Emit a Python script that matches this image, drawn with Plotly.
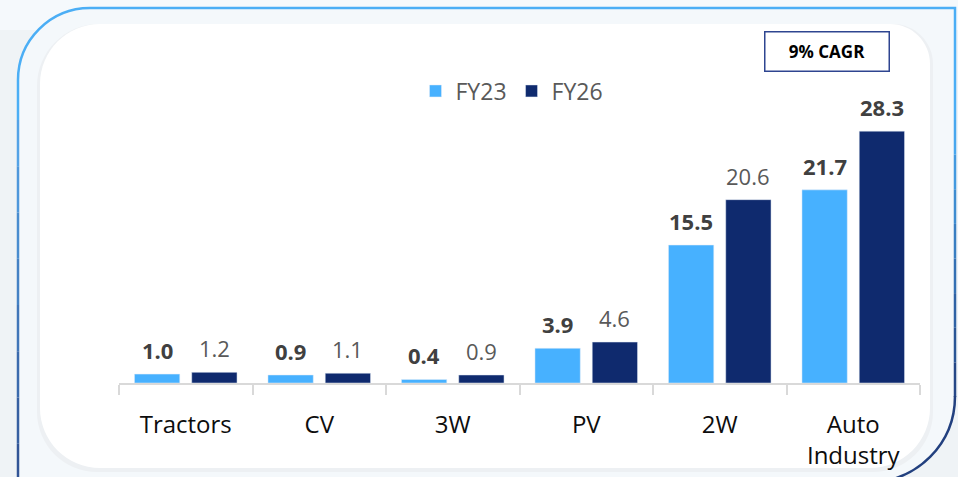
import plotly.graph_objects as go

categories = ["Tractors", "CV", "3W", "PV", "2W", "Auto<br>Industry"]
fy23 = [1.0, 0.9, 0.4, 3.9, 15.5, 21.7]
fy26 = [1.2, 1.1, 0.9, 4.6, 20.6, 28.3]
fy26_bold = [False, False, False, False, False, True]
series_names = ["FY23", "FY26"]
cagr_text = "9% CAGR"

W_FIG, H_FIG = 958, 477
L, R, T, B = 119, 38, 107, 94
PW, PH = W_FIG - L - R, H_FIG - T - B
BARGAP, BARGROUPGAP = 0.142, 0.209


def px(x):
    return (x - L) / PW


def py(y):
    return (H_FIG - B - y) / PH


def pt(x, y):
    return f"{px(x):.5f},{py(y):.5f}"


K = 0.5523


def rounded_rect(x0, y0, x1, y1, r_tl, r_tr, r_br, r_bl):
    p = f"M {pt(x0 + r_tl, y0)} L {pt(x1 - r_tr, y0)} "
    if r_tr:
        p += f"C {pt(x1 - r_tr + K*r_tr, y0)} {pt(x1, y0 + r_tr - K*r_tr)} {pt(x1, y0 + r_tr)} "
    p += f"L {pt(x1, y1 - r_br)} "
    if r_br:
        p += f"C {pt(x1, y1 - r_br + K*r_br)} {pt(x1 - r_br + K*r_br, y1)} {pt(x1 - r_br, y1)} "
    p += f"L {pt(x0 + r_bl, y1)} "
    if r_bl:
        p += f"C {pt(x0 + r_bl - K*r_bl, y1)} {pt(x0, y1 - r_bl + K*r_bl)} {pt(x0, y1 - r_bl)} "
    p += f"L {pt(x0, y0 + r_tl)} "
    if r_tl:
        p += f"C {pt(x0, y0 + r_tl - K*r_tl)} {pt(x0 + r_tl - K*r_tl, y0)} {pt(x0 + r_tl, y0)} "
    return p + "Z"


def lerp_color(c0, c1, t):
    a = [int(c0[i:i+2], 16) for i in (1, 3, 5)]
    b = [int(c1[i:i+2], 16) for i in (1, 3, 5)]
    return "#" + "".join(f"{round(a[i] + (b[i]-a[i])*t):02x}" for i in range(3))


shapes = []
shapes.append(dict(type="rect", xref="paper", yref="paper", layer="below",
                   x0=px(0), x1=px(958), y0=py(30), y1=py(0),
                   fillcolor="#F5F9FC", line=dict(width=0)))
shapes.append(dict(type="path", xref="paper", yref="paper", layer="below",
                   path=rounded_rect(18, 8, 955, 482, 72, 0, 85, 0),
                   fillcolor="#F4F8FB", line=dict(width=0)))
shapes.append(dict(type="path", xref="paper", yref="paper", layer="below",
                   path=rounded_rect(37, 24, 933, 472, 62, 40, 60, 60),
                   fillcolor="#EDF0F3", line=dict(width=0)))
shapes.append(dict(type="path", xref="paper", yref="paper", layer="below",
                   path=rounded_rect(40, 24, 930, 468, 60, 40, 60, 60),
                   fillcolor="#FFFFFF", line=dict(width=0)))

light = "#4BAEF5"
dark = "#22407F"
shapes.append(dict(type="path", xref="paper", yref="paper", layer="above",
                   path=f"M {pt(18, 120)} L {pt(18, 80)} C {pt(18, 80 - K*72)} {pt(90 - K*72, 8)} {pt(90, 8)} L {pt(955, 8)} L {pt(955, 120)}",
                   line=dict(color=light, width=2.5)))
n = 8
ys = [120 + (490 - 120) * i / n for i in range(n + 1)]
for i in range(n):
    shapes.append(dict(type="line", xref="paper", yref="paper", layer="above",
                       x0=px(18), x1=px(18), y0=py(ys[i]), y1=py(ys[i+1]),
                       line=dict(color=lerp_color("#55A8EC", "#2F4E90", (i + 0.5) / n), width=2.5)))
ys2 = [120 + (397 - 120) * i / n for i in range(n + 1)]
for i in range(n):
    shapes.append(dict(type="line", xref="paper", yref="paper", layer="above",
                       x0=px(955), x1=px(955), y0=py(ys2[i]), y1=py(ys2[i+1]),
                       line=dict(color=lerp_color(light, dark, (i + 0.5) / n), width=2.5)))
shapes.append(dict(type="path", xref="paper", yref="paper", layer="above",
                   path=f"M {pt(955, 396)} C {pt(955, 397 + K*85)} {pt(870 + K*85, 482)} {pt(870, 482)}",
                   line=dict(color=dark, width=2.5)))

font_family = "Open Sans, Noto Sans, sans-serif"

cat_px = PW / len(categories)
slot_px = cat_px * (1 - BARGAP) / 2
annotations = []
for i, cat in enumerate(categories):
    annotations.append(dict(x=cat, y=fy23[i], xref="x", yref="y", text=f"<b>{fy23[i]:.1f}</b>",
                            showarrow=False, xanchor="center", yanchor="bottom",
                            xshift=-slot_px / 2, yshift=7,
                            font=dict(size=22, color="#404040", family=font_family)))
    t26 = f"<b>{fy26[i]:.1f}</b>" if fy26_bold[i] else f"{fy26[i]:.1f}"
    annotations.append(dict(x=cat, y=fy26[i], xref="x", yref="y", text=t26,
                            showarrow=False, xanchor="center", yanchor="bottom",
                            xshift=slot_px / 2, yshift=7,
                            font=dict(size=22, color="#404040" if fy26_bold[i] else "#595959",
                                      family=font_family)))
annotations.append(dict(text=f"<b>{cagr_text}</b>", xref="paper", yref="paper",
                        x=px(826.5), y=py(51), xanchor="center", yanchor="middle",
                        showarrow=False, width=121, height=36,
                        bordercolor="#2E4590", borderwidth=1.5, bgcolor="#FFFFFF",
                        font=dict(size=17, color="#000000", family=font_family)))

fig = go.Figure()
fig.add_trace(go.Bar(name=series_names[0], x=categories, y=fy23, marker_color="#47B1FF",
                     hoverinfo="skip"))
fig.add_trace(go.Bar(name=series_names[1], x=categories, y=fy26, marker_color="#0F2A6E",
                     hoverinfo="skip"))

fig.update_layout(
    width=W_FIG, height=H_FIG,
    margin=dict(l=L, r=R, t=T, b=B),
    paper_bgcolor="#EFF3F6", plot_bgcolor="rgba(0,0,0,0)",
    barmode="group", bargap=BARGAP, bargroupgap=BARGROUPGAP,
    font=dict(family=font_family),
    showlegend=True,
    legend=dict(orientation="h", x=px(512), xanchor="center", y=py(91), yanchor="middle",
                font=dict(size=23, color="#595959"), bgcolor="rgba(0,0,0,0)",
                traceorder="normal"),
    shapes=shapes,
    annotations=annotations,
)
fig.update_xaxes(showline=True, linecolor="#D9D9D9", linewidth=2, automargin=False,
                 ticks="outside", tickson="boundaries", ticklen=10, tickcolor="#D9D9D9", tickwidth=2,
                 ticklabelstandoff=19,
                 tickfont=dict(size=24, color="#0D0D0D", family=font_family),
                 showgrid=False, zeroline=False, fixedrange=True)
fig.update_yaxes(visible=False, automargin=False, range=[0, PH / 8.9],
                 showgrid=False, zeroline=False, fixedrange=True)

fig.write_html("out.html", config={"displayModeBar": False},
               post_script="document.body.style.margin='0';document.body.style.overflow='hidden';")
